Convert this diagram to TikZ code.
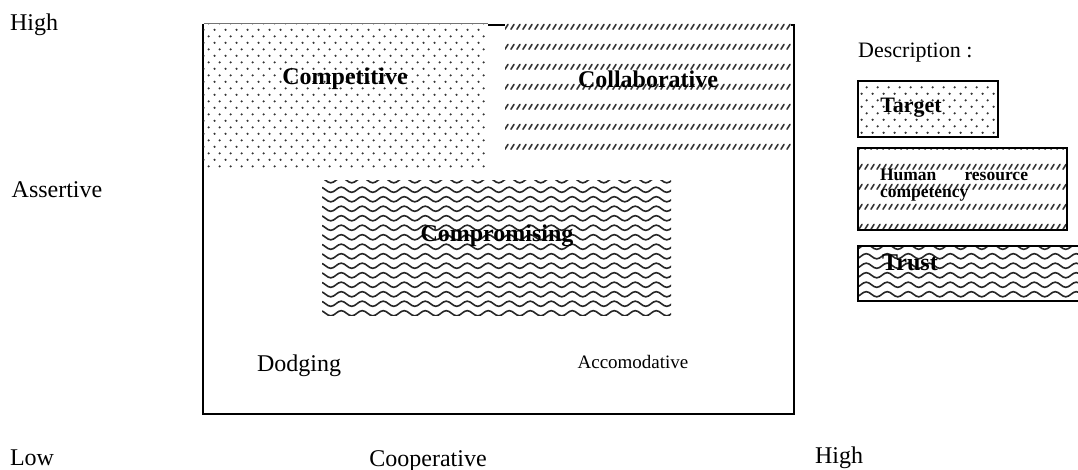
\documentclass[tikz,border=0pt]{standalone}
\usepackage{fontspec}
\setmainfont{Liberation Serif}
\usetikzlibrary{patterns}

% staggered dot grid
\pgfdeclarepatternformonly{dotgrid}{\pgfpointorigin}{\pgfpoint{10.6pt}{13.4pt}}{\pgfpoint{10.6pt}{13.4pt}}{
  \pgfpathcircle{\pgfpoint{2.65pt}{3.35pt}}{1.25pt}
  \pgfpathcircle{\pgfpoint{7.95pt}{10.05pt}}{1.25pt}
  \pgfusepath{fill}
}
% bands of short upward diagonal dashes
\pgfdeclarepatternformonly{diagdash}{\pgfpoint{-1pt}{-1pt}}{\pgfpoint{7pt}{21pt}}{\pgfpoint{6pt}{20pt}}{
  \pgfsetlinewidth{1.6pt}
  \pgfsetroundcap
  \pgfpathmoveto{\pgfpoint{1pt}{0.8pt}}
  \pgfpathlineto{\pgfpoint{4pt}{5.6pt}}
  \pgfusepath{stroke}
}
% wavy lines
\pgfdeclarepatternformonly{wavy}{\pgfpoint{-1pt}{0pt}}{\pgfpoint{22pt}{9.5pt}}{\pgfpoint{21pt}{9.5pt}}{
  \pgfsetlinewidth{1.6pt}
  \pgfpathmoveto{\pgfpoint{0pt}{4.75pt}}
  \pgfpathsine{\pgfpoint{5.25pt}{2.6pt}}
  \pgfpathcosine{\pgfpoint{5.25pt}{-2.6pt}}
  \pgfpathsine{\pgfpoint{5.25pt}{-2.6pt}}
  \pgfpathcosine{\pgfpoint{5.25pt}{2.6pt}}
  \pgfusepath{stroke}
}

\tikzset{
  axislabel/.style={font=\fontsize{24}{28}\selectfont, inner sep=0pt},
  smalllabel/.style={font=\fontsize{19}{22}\selectfont, inner sep=0pt},
  zonelabel/.style={font=\bfseries\fontsize{24}{28}\selectfont, inner sep=0pt},
  keylabel/.style={font=\bfseries\fontsize{22}{26}\selectfont, inner sep=0pt},
  area/.style={rectangle, inner sep=0pt, anchor=north west},
  frame/.style={area, draw=black, line width=2pt},
  dotted area/.style={preaction={fill=white}, pattern=dotgrid, pattern color=black!80},
  dashed area/.style={preaction={fill=white}, pattern=diagdash, pattern color=black!80},
  wavy area/.style={preaction={fill=white}, pattern=wavy, pattern color=black!85},
}

\begin{document}
\begin{tikzpicture}[x=1pt, y=-1pt]
  \useasboundingbox (0,0) rectangle (1078,470);

  % main grid
  \node[frame, minimum width=591pt, minimum height=389pt] (grid) at (202,24) {};

  % shaded zones
  \node[area, dotted area, minimum width=284pt, minimum height=146pt] (competitive) at (203.5,23) {};
  \draw[black!55, line width=0.8pt] (competitive.north west) -- (competitive.north east);
  \node[area, dashed area, minimum width=286pt, minimum height=139pt] (collaborative) at (505,23) {};
  \node[area, wavy area, minimum width=349pt, minimum height=135pt] (compromising) at (322,180) {};

  % zone names
  \node[zonelabel] (tcomp) at (345,79) {Competitive};
  \node[zonelabel] (tcoll) at (648,79) {Collaborative};
  \node[zonelabel] (tcompr) at (497,236) {Compromising};
  \node[axislabel] (tdodge) at (299,366) {Dodging};
  \node[smalllabel] (tacc) at (633,362) {Accomodative};

  % axis labels
  \node[axislabel] (yhigh) at (34,25) {High};
  \node[axislabel] (yname) at (57,190) {Assertive};
  \node[axislabel] (ylow) at (32,458) {Low};
  \node[axislabel, anchor=base] (xname) at (428,466) {Cooperative};
  \node[axislabel] (xhigh) at (839,458) {High};

  % key
  \node[font=\fontsize{22}{26}\selectfont, inner sep=0pt, anchor=west] (keytitle) at (858,53) {Description :};
  \node[frame, dotted area, minimum width=140pt, minimum height=56pt] (ktarget) at (857,80) {};
  \node[keylabel] (ttarget) at (911,108) {Target};
  \node[frame, dashed area, minimum width=209pt, minimum height=82pt] (khuman) at (857,147) {};
  \node[font=\bfseries\fontsize{17.5}{17}\selectfont, inner sep=0pt, text width=148pt, align=justify] (thuman) at (954,185) {Human resource competency};
  \node[frame, wavy area, minimum width=233pt, minimum height=55pt] (ktrust) at (857,245) {};
  \node[zonelabel] (ttrust) at (910,263) {Trust};
\end{tikzpicture}
\end{document}
